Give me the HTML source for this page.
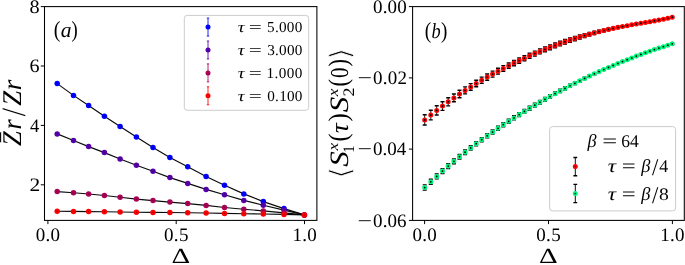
<!DOCTYPE html>
<html><head><meta charset="utf-8"><title>figure</title>
<style>html,body{margin:0;padding:0;background:#fff}svg{display:block;will-change:transform;text-rendering:geometricPrecision}
.t{font-family:"Liberation Serif",serif;fill:#000}.i{font-style:italic}
.d{font-family:"DejaVu Serif","Liberation Serif",serif;fill:#000;stroke:#fff;stroke-width:0.8px}</style></head>
<body><svg width="685" height="265" viewBox="0 0 685 265">
<rect width="685" height="265" fill="#fff"/>
<polyline points="57.2,83.6 73.5,95.4 88.6,105.6 104.4,116.2 120.1,126.5 136.4,137.1 153.0,147.5 169.9,157.4 187.7,166.8 206.1,176.5 224.5,185.3 243.8,193.9 263.3,201.6 284.0,208.6 304.4,214.9" fill="none" stroke="#0a0a0a" stroke-width="1.15"/>
<polyline points="57.2,133.9 73.5,140.5 88.6,146.6 104.4,152.6 120.1,159.0 136.4,165.2 153.0,171.3 169.9,177.6 187.7,183.4 206.1,189.4 224.5,194.8 243.8,200.4 263.3,205.2 284.0,210.1 304.4,214.9" fill="none" stroke="#0a0a0a" stroke-width="1.15"/>
<polyline points="57.2,191.6 73.5,192.8 88.6,194.0 104.4,195.5 120.1,197.3 136.4,199.1 153.0,200.6 169.9,202.1 187.7,203.6 206.1,205.4 224.5,207.5 243.8,209.2 263.3,210.9 284.0,212.9 304.4,214.9" fill="none" stroke="#0a0a0a" stroke-width="1.15"/>
<polyline points="57.2,211.2 73.5,211.4 88.6,211.6 104.4,211.8 120.1,212.0 136.4,212.2 153.0,212.4 169.9,212.5 187.7,212.7 206.1,213.0 224.5,213.4 243.8,213.7 263.3,214.0 284.0,214.4 304.4,214.9" fill="none" stroke="#0a0a0a" stroke-width="1.15"/>
<circle cx="57.2" cy="83.6" r="2.75" fill="#0000ff"/>
<circle cx="57.2" cy="83.6" r="0.7" fill="#000" fill-opacity="0.35"/>
<circle cx="73.5" cy="95.4" r="2.75" fill="#0000ff"/>
<circle cx="73.5" cy="95.4" r="0.7" fill="#000" fill-opacity="0.35"/>
<circle cx="88.6" cy="105.6" r="2.75" fill="#0000ff"/>
<circle cx="88.6" cy="105.6" r="0.7" fill="#000" fill-opacity="0.35"/>
<circle cx="104.4" cy="116.2" r="2.75" fill="#0000ff"/>
<circle cx="104.4" cy="116.2" r="0.7" fill="#000" fill-opacity="0.35"/>
<circle cx="120.1" cy="126.5" r="2.75" fill="#0000ff"/>
<circle cx="120.1" cy="126.5" r="0.7" fill="#000" fill-opacity="0.35"/>
<circle cx="136.4" cy="137.1" r="2.75" fill="#0000ff"/>
<circle cx="136.4" cy="137.1" r="0.7" fill="#000" fill-opacity="0.35"/>
<circle cx="153.0" cy="147.5" r="2.75" fill="#0000ff"/>
<circle cx="153.0" cy="147.5" r="0.7" fill="#000" fill-opacity="0.35"/>
<circle cx="169.9" cy="157.4" r="2.75" fill="#0000ff"/>
<circle cx="169.9" cy="157.4" r="0.7" fill="#000" fill-opacity="0.35"/>
<circle cx="187.7" cy="166.8" r="2.75" fill="#0000ff"/>
<circle cx="187.7" cy="166.8" r="0.7" fill="#000" fill-opacity="0.35"/>
<circle cx="206.1" cy="176.5" r="2.75" fill="#0000ff"/>
<circle cx="206.1" cy="176.5" r="0.7" fill="#000" fill-opacity="0.35"/>
<circle cx="224.5" cy="185.3" r="2.75" fill="#0000ff"/>
<circle cx="224.5" cy="185.3" r="0.7" fill="#000" fill-opacity="0.35"/>
<circle cx="243.8" cy="193.9" r="2.75" fill="#0000ff"/>
<circle cx="243.8" cy="193.9" r="0.7" fill="#000" fill-opacity="0.35"/>
<circle cx="263.3" cy="201.6" r="2.75" fill="#0000ff"/>
<circle cx="263.3" cy="201.6" r="0.7" fill="#000" fill-opacity="0.35"/>
<circle cx="284.0" cy="208.6" r="2.75" fill="#0000ff"/>
<circle cx="284.0" cy="208.6" r="0.7" fill="#000" fill-opacity="0.35"/>
<circle cx="304.4" cy="214.9" r="2.75" fill="#0000ff"/>
<circle cx="304.4" cy="214.9" r="0.7" fill="#000" fill-opacity="0.35"/>
<circle cx="57.2" cy="133.9" r="2.75" fill="#5500aa"/>
<circle cx="57.2" cy="133.9" r="0.7" fill="#000" fill-opacity="0.35"/>
<circle cx="73.5" cy="140.5" r="2.75" fill="#5500aa"/>
<circle cx="73.5" cy="140.5" r="0.7" fill="#000" fill-opacity="0.35"/>
<circle cx="88.6" cy="146.6" r="2.75" fill="#5500aa"/>
<circle cx="88.6" cy="146.6" r="0.7" fill="#000" fill-opacity="0.35"/>
<circle cx="104.4" cy="152.6" r="2.75" fill="#5500aa"/>
<circle cx="104.4" cy="152.6" r="0.7" fill="#000" fill-opacity="0.35"/>
<circle cx="120.1" cy="159.0" r="2.75" fill="#5500aa"/>
<circle cx="120.1" cy="159.0" r="0.7" fill="#000" fill-opacity="0.35"/>
<circle cx="136.4" cy="165.2" r="2.75" fill="#5500aa"/>
<circle cx="136.4" cy="165.2" r="0.7" fill="#000" fill-opacity="0.35"/>
<circle cx="153.0" cy="171.3" r="2.75" fill="#5500aa"/>
<circle cx="153.0" cy="171.3" r="0.7" fill="#000" fill-opacity="0.35"/>
<circle cx="169.9" cy="177.6" r="2.75" fill="#5500aa"/>
<circle cx="169.9" cy="177.6" r="0.7" fill="#000" fill-opacity="0.35"/>
<circle cx="187.7" cy="183.4" r="2.75" fill="#5500aa"/>
<circle cx="187.7" cy="183.4" r="0.7" fill="#000" fill-opacity="0.35"/>
<circle cx="206.1" cy="189.4" r="2.75" fill="#5500aa"/>
<circle cx="206.1" cy="189.4" r="0.7" fill="#000" fill-opacity="0.35"/>
<circle cx="224.5" cy="194.8" r="2.75" fill="#5500aa"/>
<circle cx="224.5" cy="194.8" r="0.7" fill="#000" fill-opacity="0.35"/>
<circle cx="243.8" cy="200.4" r="2.75" fill="#5500aa"/>
<circle cx="243.8" cy="200.4" r="0.7" fill="#000" fill-opacity="0.35"/>
<circle cx="263.3" cy="205.2" r="2.75" fill="#5500aa"/>
<circle cx="263.3" cy="205.2" r="0.7" fill="#000" fill-opacity="0.35"/>
<circle cx="284.0" cy="210.1" r="2.75" fill="#5500aa"/>
<circle cx="284.0" cy="210.1" r="0.7" fill="#000" fill-opacity="0.35"/>
<circle cx="304.4" cy="214.9" r="2.75" fill="#5500aa"/>
<circle cx="304.4" cy="214.9" r="0.7" fill="#000" fill-opacity="0.35"/>
<circle cx="57.2" cy="191.6" r="2.75" fill="#aa0055"/>
<circle cx="57.2" cy="191.6" r="0.7" fill="#000" fill-opacity="0.35"/>
<circle cx="73.5" cy="192.8" r="2.75" fill="#aa0055"/>
<circle cx="73.5" cy="192.8" r="0.7" fill="#000" fill-opacity="0.35"/>
<circle cx="88.6" cy="194.0" r="2.75" fill="#aa0055"/>
<circle cx="88.6" cy="194.0" r="0.7" fill="#000" fill-opacity="0.35"/>
<circle cx="104.4" cy="195.5" r="2.75" fill="#aa0055"/>
<circle cx="104.4" cy="195.5" r="0.7" fill="#000" fill-opacity="0.35"/>
<circle cx="120.1" cy="197.3" r="2.75" fill="#aa0055"/>
<circle cx="120.1" cy="197.3" r="0.7" fill="#000" fill-opacity="0.35"/>
<circle cx="136.4" cy="199.1" r="2.75" fill="#aa0055"/>
<circle cx="136.4" cy="199.1" r="0.7" fill="#000" fill-opacity="0.35"/>
<circle cx="153.0" cy="200.6" r="2.75" fill="#aa0055"/>
<circle cx="153.0" cy="200.6" r="0.7" fill="#000" fill-opacity="0.35"/>
<circle cx="169.9" cy="202.1" r="2.75" fill="#aa0055"/>
<circle cx="169.9" cy="202.1" r="0.7" fill="#000" fill-opacity="0.35"/>
<circle cx="187.7" cy="203.6" r="2.75" fill="#aa0055"/>
<circle cx="187.7" cy="203.6" r="0.7" fill="#000" fill-opacity="0.35"/>
<circle cx="206.1" cy="205.4" r="2.75" fill="#aa0055"/>
<circle cx="206.1" cy="205.4" r="0.7" fill="#000" fill-opacity="0.35"/>
<circle cx="224.5" cy="207.5" r="2.75" fill="#aa0055"/>
<circle cx="224.5" cy="207.5" r="0.7" fill="#000" fill-opacity="0.35"/>
<circle cx="243.8" cy="209.2" r="2.75" fill="#aa0055"/>
<circle cx="243.8" cy="209.2" r="0.7" fill="#000" fill-opacity="0.35"/>
<circle cx="263.3" cy="210.9" r="2.75" fill="#aa0055"/>
<circle cx="263.3" cy="210.9" r="0.7" fill="#000" fill-opacity="0.35"/>
<circle cx="284.0" cy="212.9" r="2.75" fill="#aa0055"/>
<circle cx="284.0" cy="212.9" r="0.7" fill="#000" fill-opacity="0.35"/>
<circle cx="304.4" cy="214.9" r="2.75" fill="#aa0055"/>
<circle cx="304.4" cy="214.9" r="0.7" fill="#000" fill-opacity="0.35"/>
<circle cx="57.2" cy="211.2" r="2.75" fill="#ff0000"/>
<circle cx="57.2" cy="211.2" r="0.7" fill="#000" fill-opacity="0.35"/>
<circle cx="73.5" cy="211.4" r="2.75" fill="#ff0000"/>
<circle cx="73.5" cy="211.4" r="0.7" fill="#000" fill-opacity="0.35"/>
<circle cx="88.6" cy="211.6" r="2.75" fill="#ff0000"/>
<circle cx="88.6" cy="211.6" r="0.7" fill="#000" fill-opacity="0.35"/>
<circle cx="104.4" cy="211.8" r="2.75" fill="#ff0000"/>
<circle cx="104.4" cy="211.8" r="0.7" fill="#000" fill-opacity="0.35"/>
<circle cx="120.1" cy="212.0" r="2.75" fill="#ff0000"/>
<circle cx="120.1" cy="212.0" r="0.7" fill="#000" fill-opacity="0.35"/>
<circle cx="136.4" cy="212.2" r="2.75" fill="#ff0000"/>
<circle cx="136.4" cy="212.2" r="0.7" fill="#000" fill-opacity="0.35"/>
<circle cx="153.0" cy="212.4" r="2.75" fill="#ff0000"/>
<circle cx="153.0" cy="212.4" r="0.7" fill="#000" fill-opacity="0.35"/>
<circle cx="169.9" cy="212.5" r="2.75" fill="#ff0000"/>
<circle cx="169.9" cy="212.5" r="0.7" fill="#000" fill-opacity="0.35"/>
<circle cx="187.7" cy="212.7" r="2.75" fill="#ff0000"/>
<circle cx="187.7" cy="212.7" r="0.7" fill="#000" fill-opacity="0.35"/>
<circle cx="206.1" cy="213.0" r="2.75" fill="#ff0000"/>
<circle cx="206.1" cy="213.0" r="0.7" fill="#000" fill-opacity="0.35"/>
<circle cx="224.5" cy="213.4" r="2.75" fill="#ff0000"/>
<circle cx="224.5" cy="213.4" r="0.7" fill="#000" fill-opacity="0.35"/>
<circle cx="243.8" cy="213.7" r="2.75" fill="#ff0000"/>
<circle cx="243.8" cy="213.7" r="0.7" fill="#000" fill-opacity="0.35"/>
<circle cx="263.3" cy="214.0" r="2.75" fill="#ff0000"/>
<circle cx="263.3" cy="214.0" r="0.7" fill="#000" fill-opacity="0.35"/>
<circle cx="284.0" cy="214.4" r="2.75" fill="#ff0000"/>
<circle cx="284.0" cy="214.4" r="0.7" fill="#000" fill-opacity="0.35"/>
<circle cx="304.4" cy="214.9" r="2.75" fill="#ff0000"/>
<circle cx="304.4" cy="214.9" r="0.7" fill="#000" fill-opacity="0.35"/>
<rect x="44.5" y="6.6" width="272.4" height="213.8" fill="none" stroke="#000" stroke-width="1.05"/>
<line x1="47.9" y1="220.4" x2="47.9" y2="224.1" stroke="#000" stroke-width="1"/>
<text x="35.68" y="240.60" font-size="19" class="t" letter-spacing="0.349" >0.0</text>
<line x1="176.2" y1="220.4" x2="176.2" y2="224.1" stroke="#000" stroke-width="1"/>
<text x="163.98" y="240.60" font-size="19" class="t" letter-spacing="0.358" >0.5</text>
<line x1="304.5" y1="220.4" x2="304.5" y2="224.1" stroke="#000" stroke-width="1"/>
<text x="292.43" y="240.60" font-size="19" class="t" letter-spacing="0.272" >1.0</text>
<line x1="40.8" y1="6.6" x2="44.5" y2="6.6" stroke="#000" stroke-width="1"/>
<text x="29.63" y="12.90" font-size="19" class="t" textLength="10.15" lengthAdjust="spacingAndGlyphs" >8</text>
<line x1="40.8" y1="66.0" x2="44.5" y2="66.0" stroke="#000" stroke-width="1"/>
<text x="29.54" y="72.30" font-size="19" class="t" textLength="10.06" lengthAdjust="spacingAndGlyphs" >6</text>
<line x1="40.8" y1="125.4" x2="44.5" y2="125.4" stroke="#000" stroke-width="1"/>
<text x="30.04" y="131.70" font-size="19" class="t" textLength="9.25" lengthAdjust="spacingAndGlyphs" >4</text>
<line x1="40.8" y1="184.8" x2="44.5" y2="184.8" stroke="#000" stroke-width="1"/>
<text x="29.46" y="191.10" font-size="19" class="t" textLength="10.73" lengthAdjust="spacingAndGlyphs" >2</text>
<text x="171.59" y="263.00" font-size="21.5" class="t" textLength="18.70" lengthAdjust="spacingAndGlyphs" >Δ</text>
<text x="539.09" y="263.00" font-size="21.5" class="t" textLength="18.70" lengthAdjust="spacingAndGlyphs" >Δ</text>
<text x="53.63" y="36.90" font-size="23" class="t" textLength="6.61" lengthAdjust="spacingAndGlyphs" >(</text>
<text x="60.66" y="36.50" font-size="21.5" class="t i" textLength="10.75" lengthAdjust="spacingAndGlyphs" >a</text>
<text x="71.60" y="36.90" font-size="23" class="t" textLength="6.22" lengthAdjust="spacingAndGlyphs" >)</text>
<text x="424.74" y="38.20" font-size="23" class="t" textLength="6.48" lengthAdjust="spacingAndGlyphs" >(</text>
<text x="431.62" y="37.80" font-size="21.5" class="t i" textLength="9.13" lengthAdjust="spacingAndGlyphs" >b</text>
<text x="440.99" y="38.20" font-size="23" class="t" textLength="6.35" lengthAdjust="spacingAndGlyphs" >)</text>
<g transform="translate(21.1,146.1) rotate(-90)">
<text x="-0.02" y="0.00" font-size="27" class="t i" textLength="14.80" lengthAdjust="spacingAndGlyphs" >Z</text>
<text x="16.53" y="0.00" font-size="27" class="t i" textLength="10.29" lengthAdjust="spacingAndGlyphs" >r</text>
<text x="30.93" y="3.40" font-size="34" class="t i" textLength="5.63" lengthAdjust="spacingAndGlyphs" >/</text>
<text x="40.47" y="0.00" font-size="27" class="t i" textLength="14.90" lengthAdjust="spacingAndGlyphs" >Z</text>
<text x="55.89" y="0.00" font-size="27" class="t i" textLength="10.63" lengthAdjust="spacingAndGlyphs" >r</text>
<line x1="3.9" y1="-20.5" x2="13.8" y2="-20.5" stroke="#000" stroke-width="1.1"/></g>
<rect x="184.3" y="15.4" width="124.4" height="94.9" rx="3" ry="3" fill="#fff" fill-opacity="0.8" stroke="#ccc" stroke-width="1"/>
<path d="M208 18.1V36.1M206.8 18.1h2.4M206.8 36.1h2.4" stroke="#0000ff" stroke-width="1" stroke-opacity="0.85" fill="none"/>
<circle cx="208" cy="27.1" r="2.5" fill="#0000ff"/>
<text x="237.78" y="32.40" font-size="15.5" class="t i" textLength="6.84" lengthAdjust="spacingAndGlyphs" >τ</text>
<text x="248.84" y="32.40" font-size="15.5" class="t" textLength="13.09" lengthAdjust="spacingAndGlyphs" >=</text>
<text x="267.02" y="32.40" font-size="15.2" class="t" letter-spacing="0.291" >5.000</text>
<path d="M208 41.0V59.0M206.8 41.0h2.4M206.8 59.0h2.4" stroke="#5500aa" stroke-width="1" stroke-opacity="0.85" fill="none"/>
<circle cx="208" cy="50.0" r="2.5" fill="#5500aa"/>
<text x="237.78" y="55.30" font-size="15.5" class="t i" textLength="6.84" lengthAdjust="spacingAndGlyphs" >τ</text>
<text x="248.84" y="55.30" font-size="15.5" class="t" textLength="13.09" lengthAdjust="spacingAndGlyphs" >=</text>
<text x="267.17" y="55.30" font-size="15.2" class="t" letter-spacing="0.252" >3.000</text>
<path d="M208 63.900000000000006V81.9M206.8 63.900000000000006h2.4M206.8 81.9h2.4" stroke="#aa0055" stroke-width="1" stroke-opacity="0.85" fill="none"/>
<circle cx="208" cy="72.9" r="2.5" fill="#aa0055"/>
<text x="237.78" y="78.20" font-size="15.5" class="t i" textLength="6.84" lengthAdjust="spacingAndGlyphs" >τ</text>
<text x="248.84" y="78.20" font-size="15.5" class="t" textLength="13.09" lengthAdjust="spacingAndGlyphs" >=</text>
<text x="266.56" y="78.20" font-size="15.2" class="t" letter-spacing="0.404" >1.000</text>
<path d="M208 86.79999999999998V104.79999999999998M206.8 86.79999999999998h2.4M206.8 104.79999999999998h2.4" stroke="#ff0000" stroke-width="1" stroke-opacity="0.85" fill="none"/>
<circle cx="208" cy="95.79999999999998" r="2.5" fill="#ff0000"/>
<text x="237.78" y="101.10" font-size="15.5" class="t i" textLength="6.84" lengthAdjust="spacingAndGlyphs" >τ</text>
<text x="248.84" y="101.10" font-size="15.5" class="t" textLength="13.09" lengthAdjust="spacingAndGlyphs" >=</text>
<text x="267.32" y="101.10" font-size="15.2" class="t" letter-spacing="0.214" >0.100</text>
<path d="M424.7 114.8V125.0" stroke="#000" stroke-width="0.9" fill="none"/>
<path d="M422.7 114.8h4M422.7 125.0h4" stroke="#000" stroke-width="1.4" fill="none"/>
<path d="M430.8 110.2V119.9" stroke="#000" stroke-width="0.9" fill="none"/>
<path d="M428.8 110.2h4M428.8 119.9h4" stroke="#000" stroke-width="1.4" fill="none"/>
<path d="M436.7 105.8V115.0" stroke="#000" stroke-width="0.9" fill="none"/>
<path d="M434.7 105.8h4M434.7 115.0h4" stroke="#000" stroke-width="1.4" fill="none"/>
<path d="M442.5 101.7V110.4" stroke="#000" stroke-width="0.9" fill="none"/>
<path d="M440.5 101.7h4M440.5 110.4h4" stroke="#000" stroke-width="1.4" fill="none"/>
<path d="M448.2 97.7V105.9" stroke="#000" stroke-width="0.9" fill="none"/>
<path d="M446.2 97.7h4M446.2 105.9h4" stroke="#000" stroke-width="1.4" fill="none"/>
<path d="M453.9 94.0V101.8" stroke="#000" stroke-width="0.9" fill="none"/>
<path d="M451.9 94.0h4M451.9 101.8h4" stroke="#000" stroke-width="1.4" fill="none"/>
<path d="M459.5 90.3V97.7" stroke="#000" stroke-width="0.9" fill="none"/>
<path d="M457.5 90.3h4M457.5 97.7h4" stroke="#000" stroke-width="1.4" fill="none"/>
<path d="M465.1 86.9V93.9" stroke="#000" stroke-width="0.9" fill="none"/>
<path d="M463.1 86.9h4M463.1 93.9h4" stroke="#000" stroke-width="1.4" fill="none"/>
<path d="M470.7 83.6V90.2" stroke="#000" stroke-width="0.9" fill="none"/>
<path d="M468.7 83.6h4M468.7 90.2h4" stroke="#000" stroke-width="1.4" fill="none"/>
<path d="M476.2 80.3V86.7" stroke="#000" stroke-width="0.9" fill="none"/>
<path d="M474.2 80.3h4M474.2 86.7h4" stroke="#000" stroke-width="1.4" fill="none"/>
<path d="M481.7 77.1V83.4" stroke="#000" stroke-width="0.9" fill="none"/>
<path d="M479.7 77.1h4M479.7 83.4h4" stroke="#000" stroke-width="1.4" fill="none"/>
<path d="M487.2 74.0V80.2" stroke="#000" stroke-width="0.9" fill="none"/>
<path d="M485.2 74.0h4M485.2 80.2h4" stroke="#000" stroke-width="1.4" fill="none"/>
<path d="M492.6 71.1V77.1" stroke="#000" stroke-width="0.9" fill="none"/>
<path d="M490.6 71.1h4M490.6 77.1h4" stroke="#000" stroke-width="1.4" fill="none"/>
<path d="M498.0 68.3V74.1" stroke="#000" stroke-width="0.9" fill="none"/>
<path d="M496.0 68.3h4M496.0 74.1h4" stroke="#000" stroke-width="1.4" fill="none"/>
<path d="M503.3 65.6V71.2" stroke="#000" stroke-width="0.9" fill="none"/>
<path d="M501.3 65.6h4M501.3 71.2h4" stroke="#000" stroke-width="1.4" fill="none"/>
<path d="M508.7 63.0V68.4" stroke="#000" stroke-width="0.9" fill="none"/>
<path d="M506.7 63.0h4M506.7 68.4h4" stroke="#000" stroke-width="1.4" fill="none"/>
<path d="M514.0 60.4V65.8" stroke="#000" stroke-width="0.9" fill="none"/>
<path d="M512.0 60.4h4M512.0 65.8h4" stroke="#000" stroke-width="1.4" fill="none"/>
<path d="M519.2 58.0V63.2" stroke="#000" stroke-width="0.9" fill="none"/>
<path d="M517.2 58.0h4M517.2 63.2h4" stroke="#000" stroke-width="1.4" fill="none"/>
<path d="M524.4 55.6V60.7" stroke="#000" stroke-width="0.9" fill="none"/>
<path d="M522.4 55.6h4M522.4 60.7h4" stroke="#000" stroke-width="1.4" fill="none"/>
<path d="M529.6 53.3V58.4" stroke="#000" stroke-width="0.9" fill="none"/>
<path d="M527.6 53.3h4M527.6 58.4h4" stroke="#000" stroke-width="1.4" fill="none"/>
<path d="M534.8 51.1V56.1" stroke="#000" stroke-width="0.9" fill="none"/>
<path d="M532.8 51.1h4M532.8 56.1h4" stroke="#000" stroke-width="1.4" fill="none"/>
<path d="M539.9 48.9V53.9" stroke="#000" stroke-width="0.9" fill="none"/>
<path d="M537.9 48.9h4M537.9 53.9h4" stroke="#000" stroke-width="1.4" fill="none"/>
<path d="M545.0 46.9V51.8" stroke="#000" stroke-width="0.9" fill="none"/>
<path d="M543.0 46.9h4M543.0 51.8h4" stroke="#000" stroke-width="1.4" fill="none"/>
<path d="M550.0 44.9V49.7" stroke="#000" stroke-width="0.9" fill="none"/>
<path d="M548.0 44.9h4M548.0 49.7h4" stroke="#000" stroke-width="1.4" fill="none"/>
<path d="M555.1 43.0V47.8" stroke="#000" stroke-width="0.9" fill="none"/>
<path d="M553.1 43.0h4M553.1 47.8h4" stroke="#000" stroke-width="1.4" fill="none"/>
<path d="M560.1 41.2V45.9" stroke="#000" stroke-width="0.9" fill="none"/>
<path d="M558.1 41.2h4M558.1 45.9h4" stroke="#000" stroke-width="1.4" fill="none"/>
<path d="M565.0 39.5V44.1" stroke="#000" stroke-width="0.9" fill="none"/>
<path d="M563.0 39.5h4M563.0 44.1h4" stroke="#000" stroke-width="1.4" fill="none"/>
<path d="M570.0 37.9V42.3" stroke="#000" stroke-width="0.9" fill="none"/>
<path d="M568.0 37.9h4M568.0 42.3h4" stroke="#000" stroke-width="1.4" fill="none"/>
<path d="M574.9 36.4V40.7" stroke="#000" stroke-width="0.9" fill="none"/>
<path d="M572.9 36.4h4M572.9 40.7h4" stroke="#000" stroke-width="1.4" fill="none"/>
<path d="M579.8 34.9V39.1" stroke="#000" stroke-width="0.9" fill="none"/>
<path d="M577.8 34.9h4M577.8 39.1h4" stroke="#000" stroke-width="1.4" fill="none"/>
<path d="M584.6 33.6V37.6" stroke="#000" stroke-width="0.9" fill="none"/>
<path d="M582.6 33.6h4M582.6 37.6h4" stroke="#000" stroke-width="1.4" fill="none"/>
<path d="M589.4 32.4V36.0" stroke="#000" stroke-width="0.9" fill="none"/>
<path d="M587.4 32.4h4M587.4 36.0h4" stroke="#000" stroke-width="1.4" fill="none"/>
<path d="M594.3 31.2V34.6" stroke="#000" stroke-width="0.9" fill="none"/>
<path d="M592.3 31.2h4M592.3 34.6h4" stroke="#000" stroke-width="1.4" fill="none"/>
<path d="M599.0 30.2V33.2" stroke="#000" stroke-width="0.9" fill="none"/>
<path d="M597.0 30.2h4M597.0 33.2h4" stroke="#000" stroke-width="1.4" fill="none"/>
<path d="M603.8 29.2V31.9" stroke="#000" stroke-width="0.9" fill="none"/>
<path d="M601.8 29.2h4M601.8 31.9h4" stroke="#000" stroke-width="1.4" fill="none"/>
<path d="M608.5 28.3V30.6" stroke="#000" stroke-width="0.9" fill="none"/>
<path d="M606.5 28.3h4M606.5 30.6h4" stroke="#000" stroke-width="1.4" fill="none"/>
<path d="M613.2 27.4V29.4" stroke="#000" stroke-width="0.9" fill="none"/>
<path d="M611.2 27.4h4M611.2 29.4h4" stroke="#000" stroke-width="1.4" fill="none"/>
<path d="M617.9 26.5V28.3" stroke="#000" stroke-width="0.9" fill="none"/>
<path d="M615.9 26.5h4M615.9 28.3h4" stroke="#000" stroke-width="1.4" fill="none"/>
<path d="M622.5 25.7V27.3" stroke="#000" stroke-width="0.9" fill="none"/>
<path d="M620.5 25.7h4M620.5 27.3h4" stroke="#000" stroke-width="1.4" fill="none"/>
<path d="M627.2 25.0V26.4" stroke="#000" stroke-width="0.9" fill="none"/>
<path d="M625.2 25.0h4M625.2 26.4h4" stroke="#000" stroke-width="1.4" fill="none"/>
<path d="M631.8 24.2V25.4" stroke="#000" stroke-width="0.9" fill="none"/>
<path d="M629.8 24.2h4M629.8 25.4h4" stroke="#000" stroke-width="1.4" fill="none"/>
<path d="M636.3 23.4V24.6" stroke="#000" stroke-width="0.9" fill="none"/>
<path d="M634.3 23.4h4M634.3 24.6h4" stroke="#000" stroke-width="1.4" fill="none"/>
<path d="M640.9 22.7V23.8" stroke="#000" stroke-width="0.9" fill="none"/>
<path d="M638.9 22.7h4M638.9 23.8h4" stroke="#000" stroke-width="1.4" fill="none"/>
<path d="M645.4 21.9V23.0" stroke="#000" stroke-width="0.9" fill="none"/>
<path d="M643.4 21.9h4M643.4 23.0h4" stroke="#000" stroke-width="1.4" fill="none"/>
<path d="M649.9 21.2V22.2" stroke="#000" stroke-width="0.9" fill="none"/>
<path d="M647.9 21.2h4M647.9 22.2h4" stroke="#000" stroke-width="1.4" fill="none"/>
<path d="M654.4 20.4V21.4" stroke="#000" stroke-width="0.9" fill="none"/>
<path d="M652.4 20.4h4M652.4 21.4h4" stroke="#000" stroke-width="1.4" fill="none"/>
<path d="M658.9 19.6V20.5" stroke="#000" stroke-width="0.9" fill="none"/>
<path d="M656.9 19.6h4M656.9 20.5h4" stroke="#000" stroke-width="1.4" fill="none"/>
<path d="M663.4 18.8V19.6" stroke="#000" stroke-width="0.9" fill="none"/>
<path d="M661.4 18.8h4M661.4 19.6h4" stroke="#000" stroke-width="1.4" fill="none"/>
<path d="M667.8 17.8V18.7" stroke="#000" stroke-width="0.9" fill="none"/>
<path d="M665.8 17.8h4M665.8 18.7h4" stroke="#000" stroke-width="1.4" fill="none"/>
<path d="M672.2 16.8V17.6" stroke="#000" stroke-width="0.9" fill="none"/>
<path d="M670.2 16.8h4M670.2 17.6h4" stroke="#000" stroke-width="1.4" fill="none"/>
<circle cx="424.7" cy="119.9" r="1.7" fill="#000" stroke="#ff0000" stroke-width="1.65"/>
<circle cx="430.8" cy="115.0" r="1.7" fill="#000" stroke="#ff0000" stroke-width="1.65"/>
<circle cx="436.7" cy="110.4" r="1.7" fill="#000" stroke="#ff0000" stroke-width="1.65"/>
<circle cx="442.5" cy="106.0" r="1.7" fill="#000" stroke="#ff0000" stroke-width="1.65"/>
<circle cx="448.2" cy="101.8" r="1.7" fill="#000" stroke="#ff0000" stroke-width="1.65"/>
<circle cx="453.9" cy="97.9" r="1.7" fill="#000" stroke="#ff0000" stroke-width="1.65"/>
<circle cx="459.5" cy="94.0" r="1.7" fill="#000" stroke="#ff0000" stroke-width="1.65"/>
<circle cx="465.1" cy="90.4" r="1.7" fill="#000" stroke="#ff0000" stroke-width="1.65"/>
<circle cx="470.7" cy="86.9" r="1.7" fill="#000" stroke="#ff0000" stroke-width="1.65"/>
<circle cx="476.2" cy="83.5" r="1.7" fill="#000" stroke="#ff0000" stroke-width="1.65"/>
<circle cx="481.7" cy="80.2" r="1.7" fill="#000" stroke="#ff0000" stroke-width="1.65"/>
<circle cx="487.2" cy="77.1" r="1.7" fill="#000" stroke="#ff0000" stroke-width="1.65"/>
<circle cx="492.6" cy="74.1" r="1.7" fill="#000" stroke="#ff0000" stroke-width="1.65"/>
<circle cx="498.0" cy="71.2" r="1.7" fill="#000" stroke="#ff0000" stroke-width="1.65"/>
<circle cx="503.3" cy="68.4" r="1.7" fill="#000" stroke="#ff0000" stroke-width="1.65"/>
<circle cx="508.7" cy="65.7" r="1.7" fill="#000" stroke="#ff0000" stroke-width="1.65"/>
<circle cx="514.0" cy="63.1" r="1.7" fill="#000" stroke="#ff0000" stroke-width="1.65"/>
<circle cx="519.2" cy="60.6" r="1.7" fill="#000" stroke="#ff0000" stroke-width="1.65"/>
<circle cx="524.4" cy="58.2" r="1.7" fill="#000" stroke="#ff0000" stroke-width="1.65"/>
<circle cx="529.6" cy="55.8" r="1.7" fill="#000" stroke="#ff0000" stroke-width="1.65"/>
<circle cx="534.8" cy="53.6" r="1.7" fill="#000" stroke="#ff0000" stroke-width="1.65"/>
<circle cx="539.9" cy="51.4" r="1.7" fill="#000" stroke="#ff0000" stroke-width="1.65"/>
<circle cx="545.0" cy="49.3" r="1.7" fill="#000" stroke="#ff0000" stroke-width="1.65"/>
<circle cx="550.0" cy="47.3" r="1.7" fill="#000" stroke="#ff0000" stroke-width="1.65"/>
<circle cx="555.1" cy="45.4" r="1.7" fill="#000" stroke="#ff0000" stroke-width="1.65"/>
<circle cx="560.1" cy="43.6" r="1.7" fill="#000" stroke="#ff0000" stroke-width="1.65"/>
<circle cx="565.0" cy="41.8" r="1.7" fill="#000" stroke="#ff0000" stroke-width="1.65"/>
<circle cx="570.0" cy="40.1" r="1.7" fill="#000" stroke="#ff0000" stroke-width="1.65"/>
<circle cx="574.9" cy="38.5" r="1.7" fill="#000" stroke="#ff0000" stroke-width="1.65"/>
<circle cx="579.8" cy="37.0" r="1.7" fill="#000" stroke="#ff0000" stroke-width="1.65"/>
<circle cx="584.6" cy="35.6" r="1.7" fill="#000" stroke="#ff0000" stroke-width="1.65"/>
<circle cx="589.4" cy="34.2" r="1.7" fill="#000" stroke="#ff0000" stroke-width="1.65"/>
<circle cx="594.3" cy="32.9" r="1.7" fill="#000" stroke="#ff0000" stroke-width="1.65"/>
<circle cx="599.0" cy="31.7" r="1.7" fill="#000" stroke="#ff0000" stroke-width="1.65"/>
<circle cx="603.8" cy="30.5" r="1.7" fill="#000" stroke="#ff0000" stroke-width="1.65"/>
<circle cx="608.5" cy="29.4" r="1.7" fill="#000" stroke="#ff0000" stroke-width="1.65"/>
<circle cx="613.2" cy="28.4" r="1.7" fill="#000" stroke="#ff0000" stroke-width="1.65"/>
<circle cx="617.9" cy="27.4" r="1.7" fill="#000" stroke="#ff0000" stroke-width="1.65"/>
<circle cx="622.5" cy="26.5" r="1.7" fill="#000" stroke="#ff0000" stroke-width="1.65"/>
<circle cx="627.2" cy="25.7" r="1.7" fill="#000" stroke="#ff0000" stroke-width="1.65"/>
<circle cx="631.8" cy="24.8" r="1.7" fill="#000" stroke="#ff0000" stroke-width="1.65"/>
<circle cx="636.3" cy="24.0" r="1.7" fill="#000" stroke="#ff0000" stroke-width="1.65"/>
<circle cx="640.9" cy="23.2" r="1.7" fill="#000" stroke="#ff0000" stroke-width="1.65"/>
<circle cx="645.4" cy="22.5" r="1.7" fill="#000" stroke="#ff0000" stroke-width="1.65"/>
<circle cx="649.9" cy="21.7" r="1.7" fill="#000" stroke="#ff0000" stroke-width="1.65"/>
<circle cx="654.4" cy="20.9" r="1.7" fill="#000" stroke="#ff0000" stroke-width="1.65"/>
<circle cx="658.9" cy="20.1" r="1.7" fill="#000" stroke="#ff0000" stroke-width="1.65"/>
<circle cx="663.4" cy="19.2" r="1.7" fill="#000" stroke="#ff0000" stroke-width="1.65"/>
<circle cx="667.8" cy="18.3" r="1.7" fill="#000" stroke="#ff0000" stroke-width="1.65"/>
<circle cx="672.2" cy="17.2" r="1.7" fill="#000" stroke="#ff0000" stroke-width="1.65"/>
<path d="M424.7 184.9V190.1" stroke="#000" stroke-width="0.9" fill="none"/>
<path d="M422.7 184.9h4M422.7 190.1h4" stroke="#000" stroke-width="1.4" fill="none"/>
<path d="M430.8 179.3V184.4" stroke="#000" stroke-width="0.9" fill="none"/>
<path d="M428.8 179.3h4M428.8 184.4h4" stroke="#000" stroke-width="1.4" fill="none"/>
<path d="M436.7 173.9V178.9" stroke="#000" stroke-width="0.9" fill="none"/>
<path d="M434.7 173.9h4M434.7 178.9h4" stroke="#000" stroke-width="1.4" fill="none"/>
<path d="M442.5 168.7V173.6" stroke="#000" stroke-width="0.9" fill="none"/>
<path d="M440.5 168.7h4M440.5 173.6h4" stroke="#000" stroke-width="1.4" fill="none"/>
<path d="M448.2 163.7V168.5" stroke="#000" stroke-width="0.9" fill="none"/>
<path d="M446.2 163.7h4M446.2 168.5h4" stroke="#000" stroke-width="1.4" fill="none"/>
<path d="M453.9 159.0V163.7" stroke="#000" stroke-width="0.9" fill="none"/>
<path d="M451.9 159.0h4M451.9 163.7h4" stroke="#000" stroke-width="1.4" fill="none"/>
<path d="M459.5 154.4V159.0" stroke="#000" stroke-width="0.9" fill="none"/>
<path d="M457.5 154.4h4M457.5 159.0h4" stroke="#000" stroke-width="1.4" fill="none"/>
<path d="M465.1 150.0V154.5" stroke="#000" stroke-width="0.9" fill="none"/>
<path d="M463.1 150.0h4M463.1 154.5h4" stroke="#000" stroke-width="1.4" fill="none"/>
<path d="M470.7 145.7V150.1" stroke="#000" stroke-width="0.9" fill="none"/>
<path d="M468.7 145.7h4M468.7 150.1h4" stroke="#000" stroke-width="1.4" fill="none"/>
<path d="M476.2 141.6V145.9" stroke="#000" stroke-width="0.9" fill="none"/>
<path d="M474.2 141.6h4M474.2 145.9h4" stroke="#000" stroke-width="1.4" fill="none"/>
<path d="M481.7 137.6V141.8" stroke="#000" stroke-width="0.9" fill="none"/>
<path d="M479.7 137.6h4M479.7 141.8h4" stroke="#000" stroke-width="1.4" fill="none"/>
<path d="M487.2 133.7V137.9" stroke="#000" stroke-width="0.9" fill="none"/>
<path d="M485.2 133.7h4M485.2 137.9h4" stroke="#000" stroke-width="1.4" fill="none"/>
<path d="M492.6 129.9V134.1" stroke="#000" stroke-width="0.9" fill="none"/>
<path d="M490.6 129.9h4M490.6 134.1h4" stroke="#000" stroke-width="1.4" fill="none"/>
<path d="M498.0 126.2V130.4" stroke="#000" stroke-width="0.9" fill="none"/>
<path d="M496.0 126.2h4M496.0 130.4h4" stroke="#000" stroke-width="1.4" fill="none"/>
<path d="M503.3 122.7V126.8" stroke="#000" stroke-width="0.9" fill="none"/>
<path d="M501.3 122.7h4M501.3 126.8h4" stroke="#000" stroke-width="1.4" fill="none"/>
<path d="M508.7 119.2V123.3" stroke="#000" stroke-width="0.9" fill="none"/>
<path d="M506.7 119.2h4M506.7 123.3h4" stroke="#000" stroke-width="1.4" fill="none"/>
<path d="M514.0 115.8V119.9" stroke="#000" stroke-width="0.9" fill="none"/>
<path d="M512.0 115.8h4M512.0 119.9h4" stroke="#000" stroke-width="1.4" fill="none"/>
<path d="M519.2 112.6V116.6" stroke="#000" stroke-width="0.9" fill="none"/>
<path d="M517.2 112.6h4M517.2 116.6h4" stroke="#000" stroke-width="1.4" fill="none"/>
<path d="M524.4 109.4V113.4" stroke="#000" stroke-width="0.9" fill="none"/>
<path d="M522.4 109.4h4M522.4 113.4h4" stroke="#000" stroke-width="1.4" fill="none"/>
<path d="M529.6 106.3V110.2" stroke="#000" stroke-width="0.9" fill="none"/>
<path d="M527.6 106.3h4M527.6 110.2h4" stroke="#000" stroke-width="1.4" fill="none"/>
<path d="M534.8 103.3V107.1" stroke="#000" stroke-width="0.9" fill="none"/>
<path d="M532.8 103.3h4M532.8 107.1h4" stroke="#000" stroke-width="1.4" fill="none"/>
<path d="M539.9 100.4V104.1" stroke="#000" stroke-width="0.9" fill="none"/>
<path d="M537.9 100.4h4M537.9 104.1h4" stroke="#000" stroke-width="1.4" fill="none"/>
<path d="M545.0 97.5V101.1" stroke="#000" stroke-width="0.9" fill="none"/>
<path d="M543.0 97.5h4M543.0 101.1h4" stroke="#000" stroke-width="1.4" fill="none"/>
<path d="M550.0 94.7V98.2" stroke="#000" stroke-width="0.9" fill="none"/>
<path d="M548.0 94.7h4M548.0 98.2h4" stroke="#000" stroke-width="1.4" fill="none"/>
<path d="M555.1 92.0V95.4" stroke="#000" stroke-width="0.9" fill="none"/>
<path d="M553.1 92.0h4M553.1 95.4h4" stroke="#000" stroke-width="1.4" fill="none"/>
<path d="M560.1 89.3V92.6" stroke="#000" stroke-width="0.9" fill="none"/>
<path d="M558.1 89.3h4M558.1 92.6h4" stroke="#000" stroke-width="1.4" fill="none"/>
<path d="M565.0 86.8V90.0" stroke="#000" stroke-width="0.9" fill="none"/>
<path d="M563.0 86.8h4M563.0 90.0h4" stroke="#000" stroke-width="1.4" fill="none"/>
<path d="M570.0 84.3V87.3" stroke="#000" stroke-width="0.9" fill="none"/>
<path d="M568.0 84.3h4M568.0 87.3h4" stroke="#000" stroke-width="1.4" fill="none"/>
<path d="M574.9 81.9V84.6" stroke="#000" stroke-width="0.9" fill="none"/>
<path d="M572.9 81.9h4M572.9 84.6h4" stroke="#000" stroke-width="1.4" fill="none"/>
<path d="M579.8 79.6V82.1" stroke="#000" stroke-width="0.9" fill="none"/>
<path d="M577.8 79.6h4M577.8 82.1h4" stroke="#000" stroke-width="1.4" fill="none"/>
<path d="M584.6 77.3V79.6" stroke="#000" stroke-width="0.9" fill="none"/>
<path d="M582.6 77.3h4M582.6 79.6h4" stroke="#000" stroke-width="1.4" fill="none"/>
<path d="M589.4 75.1V77.1" stroke="#000" stroke-width="0.9" fill="none"/>
<path d="M587.4 75.1h4M587.4 77.1h4" stroke="#000" stroke-width="1.4" fill="none"/>
<path d="M594.3 72.9V74.7" stroke="#000" stroke-width="0.9" fill="none"/>
<path d="M592.3 72.9h4M592.3 74.7h4" stroke="#000" stroke-width="1.4" fill="none"/>
<path d="M599.0 70.8V72.5" stroke="#000" stroke-width="0.9" fill="none"/>
<path d="M597.0 70.8h4M597.0 72.5h4" stroke="#000" stroke-width="1.4" fill="none"/>
<path d="M603.8 68.7V70.3" stroke="#000" stroke-width="0.9" fill="none"/>
<path d="M601.8 68.7h4M601.8 70.3h4" stroke="#000" stroke-width="1.4" fill="none"/>
<path d="M608.5 66.7V68.2" stroke="#000" stroke-width="0.9" fill="none"/>
<path d="M606.5 66.7h4M606.5 68.2h4" stroke="#000" stroke-width="1.4" fill="none"/>
<path d="M613.2 64.7V66.1" stroke="#000" stroke-width="0.9" fill="none"/>
<path d="M611.2 64.7h4M611.2 66.1h4" stroke="#000" stroke-width="1.4" fill="none"/>
<path d="M617.9 62.8V64.1" stroke="#000" stroke-width="0.9" fill="none"/>
<path d="M615.9 62.8h4M615.9 64.1h4" stroke="#000" stroke-width="1.4" fill="none"/>
<path d="M622.5 60.9V62.1" stroke="#000" stroke-width="0.9" fill="none"/>
<path d="M620.5 60.9h4M620.5 62.1h4" stroke="#000" stroke-width="1.4" fill="none"/>
<path d="M627.2 59.1V60.2" stroke="#000" stroke-width="0.9" fill="none"/>
<path d="M625.2 59.1h4M625.2 60.2h4" stroke="#000" stroke-width="1.4" fill="none"/>
<path d="M631.8 57.4V58.4" stroke="#000" stroke-width="0.9" fill="none"/>
<path d="M629.8 57.4h4M629.8 58.4h4" stroke="#000" stroke-width="1.4" fill="none"/>
<path d="M636.3 55.6V56.6" stroke="#000" stroke-width="0.9" fill="none"/>
<path d="M634.3 55.6h4M634.3 56.6h4" stroke="#000" stroke-width="1.4" fill="none"/>
<path d="M640.9 54.0V54.9" stroke="#000" stroke-width="0.9" fill="none"/>
<path d="M638.9 54.0h4M638.9 54.9h4" stroke="#000" stroke-width="1.4" fill="none"/>
<path d="M645.4 52.3V53.3" stroke="#000" stroke-width="0.9" fill="none"/>
<path d="M643.4 52.3h4M643.4 53.3h4" stroke="#000" stroke-width="1.4" fill="none"/>
<path d="M649.9 50.7V51.7" stroke="#000" stroke-width="0.9" fill="none"/>
<path d="M647.9 50.7h4M647.9 51.7h4" stroke="#000" stroke-width="1.4" fill="none"/>
<path d="M654.4 49.2V50.1" stroke="#000" stroke-width="0.9" fill="none"/>
<path d="M652.4 49.2h4M652.4 50.1h4" stroke="#000" stroke-width="1.4" fill="none"/>
<path d="M658.9 47.7V48.6" stroke="#000" stroke-width="0.9" fill="none"/>
<path d="M656.9 47.7h4M656.9 48.6h4" stroke="#000" stroke-width="1.4" fill="none"/>
<path d="M663.4 46.2V47.1" stroke="#000" stroke-width="0.9" fill="none"/>
<path d="M661.4 46.2h4M661.4 47.1h4" stroke="#000" stroke-width="1.4" fill="none"/>
<path d="M667.8 44.8V45.6" stroke="#000" stroke-width="0.9" fill="none"/>
<path d="M665.8 44.8h4M665.8 45.6h4" stroke="#000" stroke-width="1.4" fill="none"/>
<path d="M672.2 43.4V44.2" stroke="#000" stroke-width="0.9" fill="none"/>
<path d="M670.2 43.4h4M670.2 44.2h4" stroke="#000" stroke-width="1.4" fill="none"/>
<circle cx="424.7" cy="187.5" r="1.7" fill="#000" stroke="#00f57a" stroke-width="1.65"/>
<circle cx="430.8" cy="181.8" r="1.7" fill="#000" stroke="#00f57a" stroke-width="1.65"/>
<circle cx="436.7" cy="176.4" r="1.7" fill="#000" stroke="#00f57a" stroke-width="1.65"/>
<circle cx="442.5" cy="171.1" r="1.7" fill="#000" stroke="#00f57a" stroke-width="1.65"/>
<circle cx="448.2" cy="166.1" r="1.7" fill="#000" stroke="#00f57a" stroke-width="1.65"/>
<circle cx="453.9" cy="161.3" r="1.7" fill="#000" stroke="#00f57a" stroke-width="1.65"/>
<circle cx="459.5" cy="156.7" r="1.7" fill="#000" stroke="#00f57a" stroke-width="1.65"/>
<circle cx="465.1" cy="152.2" r="1.7" fill="#000" stroke="#00f57a" stroke-width="1.65"/>
<circle cx="470.7" cy="147.9" r="1.7" fill="#000" stroke="#00f57a" stroke-width="1.65"/>
<circle cx="476.2" cy="143.7" r="1.7" fill="#000" stroke="#00f57a" stroke-width="1.65"/>
<circle cx="481.7" cy="139.7" r="1.7" fill="#000" stroke="#00f57a" stroke-width="1.65"/>
<circle cx="487.2" cy="135.8" r="1.7" fill="#000" stroke="#00f57a" stroke-width="1.65"/>
<circle cx="492.6" cy="132.0" r="1.7" fill="#000" stroke="#00f57a" stroke-width="1.65"/>
<circle cx="498.0" cy="128.3" r="1.7" fill="#000" stroke="#00f57a" stroke-width="1.65"/>
<circle cx="503.3" cy="124.7" r="1.7" fill="#000" stroke="#00f57a" stroke-width="1.65"/>
<circle cx="508.7" cy="121.3" r="1.7" fill="#000" stroke="#00f57a" stroke-width="1.65"/>
<circle cx="514.0" cy="117.9" r="1.7" fill="#000" stroke="#00f57a" stroke-width="1.65"/>
<circle cx="519.2" cy="114.6" r="1.7" fill="#000" stroke="#00f57a" stroke-width="1.65"/>
<circle cx="524.4" cy="111.4" r="1.7" fill="#000" stroke="#00f57a" stroke-width="1.65"/>
<circle cx="529.6" cy="108.2" r="1.7" fill="#000" stroke="#00f57a" stroke-width="1.65"/>
<circle cx="534.8" cy="105.2" r="1.7" fill="#000" stroke="#00f57a" stroke-width="1.65"/>
<circle cx="539.9" cy="102.2" r="1.7" fill="#000" stroke="#00f57a" stroke-width="1.65"/>
<circle cx="545.0" cy="99.3" r="1.7" fill="#000" stroke="#00f57a" stroke-width="1.65"/>
<circle cx="550.0" cy="96.5" r="1.7" fill="#000" stroke="#00f57a" stroke-width="1.65"/>
<circle cx="555.1" cy="93.7" r="1.7" fill="#000" stroke="#00f57a" stroke-width="1.65"/>
<circle cx="560.1" cy="91.0" r="1.7" fill="#000" stroke="#00f57a" stroke-width="1.65"/>
<circle cx="565.0" cy="88.4" r="1.7" fill="#000" stroke="#00f57a" stroke-width="1.65"/>
<circle cx="570.0" cy="85.8" r="1.7" fill="#000" stroke="#00f57a" stroke-width="1.65"/>
<circle cx="574.9" cy="83.3" r="1.7" fill="#000" stroke="#00f57a" stroke-width="1.65"/>
<circle cx="579.8" cy="80.8" r="1.7" fill="#000" stroke="#00f57a" stroke-width="1.65"/>
<circle cx="584.6" cy="78.4" r="1.7" fill="#000" stroke="#00f57a" stroke-width="1.65"/>
<circle cx="589.4" cy="76.1" r="1.7" fill="#000" stroke="#00f57a" stroke-width="1.65"/>
<circle cx="594.3" cy="73.8" r="1.7" fill="#000" stroke="#00f57a" stroke-width="1.65"/>
<circle cx="599.0" cy="71.6" r="1.7" fill="#000" stroke="#00f57a" stroke-width="1.65"/>
<circle cx="603.8" cy="69.5" r="1.7" fill="#000" stroke="#00f57a" stroke-width="1.65"/>
<circle cx="608.5" cy="67.4" r="1.7" fill="#000" stroke="#00f57a" stroke-width="1.65"/>
<circle cx="613.2" cy="65.4" r="1.7" fill="#000" stroke="#00f57a" stroke-width="1.65"/>
<circle cx="617.9" cy="63.4" r="1.7" fill="#000" stroke="#00f57a" stroke-width="1.65"/>
<circle cx="622.5" cy="61.5" r="1.7" fill="#000" stroke="#00f57a" stroke-width="1.65"/>
<circle cx="627.2" cy="59.7" r="1.7" fill="#000" stroke="#00f57a" stroke-width="1.65"/>
<circle cx="631.8" cy="57.9" r="1.7" fill="#000" stroke="#00f57a" stroke-width="1.65"/>
<circle cx="636.3" cy="56.1" r="1.7" fill="#000" stroke="#00f57a" stroke-width="1.65"/>
<circle cx="640.9" cy="54.4" r="1.7" fill="#000" stroke="#00f57a" stroke-width="1.65"/>
<circle cx="645.4" cy="52.8" r="1.7" fill="#000" stroke="#00f57a" stroke-width="1.65"/>
<circle cx="649.9" cy="51.2" r="1.7" fill="#000" stroke="#00f57a" stroke-width="1.65"/>
<circle cx="654.4" cy="49.6" r="1.7" fill="#000" stroke="#00f57a" stroke-width="1.65"/>
<circle cx="658.9" cy="48.1" r="1.7" fill="#000" stroke="#00f57a" stroke-width="1.65"/>
<circle cx="663.4" cy="46.7" r="1.7" fill="#000" stroke="#00f57a" stroke-width="1.65"/>
<circle cx="667.8" cy="45.2" r="1.7" fill="#000" stroke="#00f57a" stroke-width="1.65"/>
<circle cx="672.2" cy="43.8" r="1.7" fill="#000" stroke="#00f57a" stroke-width="1.65"/>
<rect x="412.6" y="6.6" width="271.69999999999993" height="213.8" fill="none" stroke="#000" stroke-width="1.05"/>
<line x1="424.6" y1="220.4" x2="424.6" y2="224.1" stroke="#000" stroke-width="1"/>
<text x="412.38" y="240.60" font-size="19" class="t" letter-spacing="0.349" >0.0</text>
<line x1="548.5" y1="220.4" x2="548.5" y2="224.1" stroke="#000" stroke-width="1"/>
<text x="536.28" y="240.60" font-size="19" class="t" letter-spacing="0.358" >0.5</text>
<line x1="672.4" y1="220.4" x2="672.4" y2="224.1" stroke="#000" stroke-width="1"/>
<text x="660.33" y="240.60" font-size="19" class="t" letter-spacing="0.272" >1.0</text>
<line x1="408.90000000000003" y1="6.6" x2="412.6" y2="6.6" stroke="#000" stroke-width="1"/>
<text x="373.08" y="12.90" font-size="19" class="t" letter-spacing="0.099" >0.00</text>
<line x1="408.90000000000003" y1="77.9" x2="412.6" y2="77.9" stroke="#000" stroke-width="1"/>
<text x="373.08" y="84.20" font-size="19" class="t" letter-spacing="0.207" >0.02</text>
<text x="357.62" y="84.20" font-size="19" class="t" textLength="14.54" lengthAdjust="spacingAndGlyphs" >−</text>
<line x1="408.90000000000003" y1="149.1" x2="412.6" y2="149.1" stroke="#000" stroke-width="1"/>
<text x="373.08" y="155.40" font-size="19" class="t" letter-spacing="-0.043" >0.04</text>
<text x="357.62" y="155.40" font-size="19" class="t" textLength="14.54" lengthAdjust="spacingAndGlyphs" >−</text>
<line x1="408.90000000000003" y1="220.4" x2="412.6" y2="220.4" stroke="#000" stroke-width="1"/>
<text x="373.08" y="226.70" font-size="19" class="t" letter-spacing="0.047" >0.06</text>
<text x="357.62" y="226.70" font-size="19" class="t" textLength="14.54" lengthAdjust="spacingAndGlyphs" >−</text>
<g transform="translate(348,176.2) rotate(-90)">
<text x="-2.19" y="2.40" font-size="28" class="d" textLength="11.31" lengthAdjust="spacingAndGlyphs" >⟨</text>
<text x="9.54" y="0.00" font-size="26.5" class="t i" textLength="15.46" lengthAdjust="spacingAndGlyphs" >S</text>
<text x="25.71" y="-9.80" font-size="15" class="t i" textLength="7.72" lengthAdjust="spacingAndGlyphs" >x</text>
<text x="23.43" y="6.00" font-size="16" class="t" textLength="7.24" lengthAdjust="spacingAndGlyphs" >1</text>
<text x="34.74" y="-0.60" font-size="27" class="t" textLength="8.04" lengthAdjust="spacingAndGlyphs" >(</text>
<text x="43.31" y="0.00" font-size="26" class="t i" textLength="9.58" lengthAdjust="spacingAndGlyphs" >τ</text>
<text x="54.60" y="-0.60" font-size="27" class="t" textLength="8.30" lengthAdjust="spacingAndGlyphs" >)</text>
<text x="63.84" y="0.00" font-size="26.5" class="t i" textLength="15.46" lengthAdjust="spacingAndGlyphs" >S</text>
<text x="80.01" y="-9.80" font-size="15" class="t i" textLength="7.72" lengthAdjust="spacingAndGlyphs" >x</text>
<text x="79.81" y="6.00" font-size="16" class="t" textLength="8.98" lengthAdjust="spacingAndGlyphs" >2</text>
<text x="89.62" y="-0.60" font-size="27" class="t" textLength="7.39" lengthAdjust="spacingAndGlyphs" >(</text>
<text x="98.20" y="0.00" font-size="25.8" class="t" textLength="10.50" lengthAdjust="spacingAndGlyphs" >0</text>
<text x="109.77" y="-0.60" font-size="27" class="t" textLength="7.52" lengthAdjust="spacingAndGlyphs" >)</text>
<text x="116.88" y="2.40" font-size="28" class="d" textLength="11.31" lengthAdjust="spacingAndGlyphs" >⟩</text>
</g>
<rect x="549.6" y="126.6" width="126" height="84.3" rx="3" ry="3" fill="#fff" fill-opacity="0.8" stroke="#ccc" stroke-width="1"/>
<text x="587.49" y="147.20" font-size="18.5" class="t i" textLength="9.03" lengthAdjust="spacingAndGlyphs" >β</text>
<text x="602.28" y="147.20" font-size="18.5" class="t" textLength="14.91" lengthAdjust="spacingAndGlyphs" >=</text>
<text x="621.25" y="147.20" font-size="17.8" class="t" textLength="17.53" lengthAdjust="spacingAndGlyphs" >64</text>
<path d="M575.3 157.5V175.7" stroke="#000" stroke-width="0.95" fill="none"/>
<path d="M573.4 157.5h3.8M573.4 175.7h3.8" stroke="#000" stroke-width="1.4" fill="none"/>
<circle cx="575.3" cy="166.6" r="1.7" fill="#333" stroke="#ff0000" stroke-width="1.65"/>
<text x="607.69" y="172.20" font-size="18.5" class="t i" textLength="8.31" lengthAdjust="spacingAndGlyphs" >τ</text>
<text x="621.87" y="172.20" font-size="18.5" class="t" textLength="13.94" lengthAdjust="spacingAndGlyphs" >=</text>
<text x="641.30" y="172.20" font-size="18.5" class="t i" textLength="9.13" lengthAdjust="spacingAndGlyphs" >β</text>
<text x="651.90" y="175.40" font-size="24" class="t" textLength="6.30" lengthAdjust="spacingAndGlyphs" >/</text>
<text x="659.35" y="172.20" font-size="17.8" class="t" textLength="8.93" lengthAdjust="spacingAndGlyphs" >4</text>
<path d="M575.3 184.4V202.6" stroke="#000" stroke-width="0.95" fill="none"/>
<path d="M573.4 184.4h3.8M573.4 202.6h3.8" stroke="#000" stroke-width="1.4" fill="none"/>
<circle cx="575.3" cy="193.5" r="1.7" fill="#333" stroke="#00f57a" stroke-width="1.65"/>
<text x="607.69" y="199.70" font-size="18.5" class="t i" textLength="8.31" lengthAdjust="spacingAndGlyphs" >τ</text>
<text x="621.87" y="199.70" font-size="18.5" class="t" textLength="13.94" lengthAdjust="spacingAndGlyphs" >=</text>
<text x="641.30" y="199.70" font-size="18.5" class="t i" textLength="9.13" lengthAdjust="spacingAndGlyphs" >β</text>
<text x="651.90" y="202.90" font-size="24" class="t" textLength="6.30" lengthAdjust="spacingAndGlyphs" >/</text>
<text x="658.95" y="199.70" font-size="17.8" class="t" textLength="9.79" lengthAdjust="spacingAndGlyphs" >8</text>
</svg></body></html>
